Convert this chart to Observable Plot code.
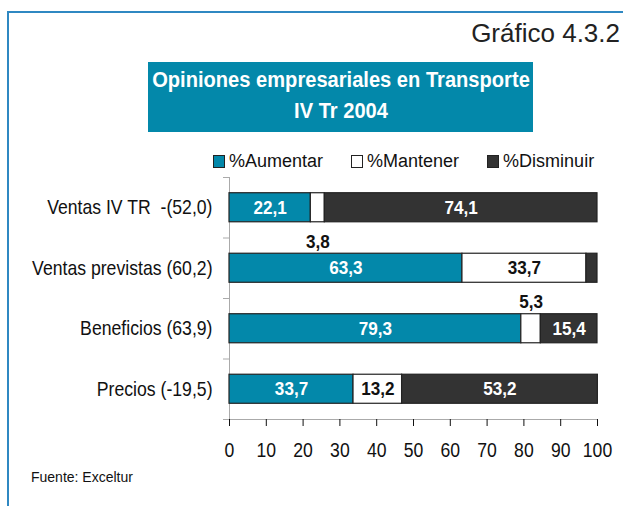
<!DOCTYPE html>
<html><head><meta charset="utf-8">
<script src="https://cdn.jsdelivr.net/npm/d3@7"></script>
<script src="https://cdn.jsdelivr.net/npm/@observablehq/plot@0.6"></script>
<style>
body{margin:0;background:#fff;}
#wrap{position:relative;width:623px;height:506px;overflow:hidden;font-family:'Liberation Sans',Arial,sans-serif;color:#111;}
#frame{position:absolute;left:7px;top:11px;width:700px;height:600px;border-left:2px solid #2f88c2;border-top:2px solid #2f88c2;}
#num{position:absolute;right:3px;top:20px;font-size:26px;line-height:26px;color:#222;}
#box{position:absolute;left:148px;top:62px;width:385px;height:70px;background:#0388aa;color:#fff;font-weight:bold;font-size:21.5px;line-height:31px;padding-top:3px;box-sizing:border-box;overflow:visible;}
#box div{width:500px;margin-left:-57.5px;text-align:center;white-space:nowrap;transform:scaleX(0.935);transform-origin:center;}
#legend{position:absolute;top:150px;left:213px;display:flex;gap:28px;font-size:18px;line-height:22px;}
#legend .it{display:flex;align-items:center;}
#legend .sw{width:10px;height:11px;border:1px solid #222;margin-right:4px;}
#src{position:absolute;left:31px;top:469px;font-size:14px;line-height:16px;color:#111;}
#chart{position:absolute;left:0;top:0;}
</style></head>
<body>
<div id="wrap">
  <div id="frame"></div>
  <div id="num">Gráfico 4.3.2</div>
  <div id="box"><div>Opiniones empresariales en Transporte</div><div>IV Tr 2004</div></div>
  <div id="legend"></div>
  <div id="chart"></div>
  <div id="src">Fuente: Exceltur</div>
</div>
<script>
const categories = ["Ventas IV TR  -(52,0)", "Ventas previstas (60,2)", "Beneficios (63,9)", "Precios (-19,5)"];
const seriesNames = ["%Aumentar", "%Mantener", "%Disminuir"];
const aumentar = [22.1, 63.3, 79.3, 33.7];
const mantener = [3.8, 33.7, 5.3, 13.2];
const disminuir = [74.1, 3.0, 15.4, 53.2];
const xTicks = [0, 10, 20, 30, 40, 50, 60, 70, 80, 90, 100];

const colors = {"%Aumentar": "#0388aa", "%Mantener": "#ffffff", "%Disminuir": "#333333"};
const labelColors = {"%Aumentar": "#ffffff", "%Mantener": "#111111", "%Disminuir": "#ffffff"};
const seriesValues = [aumentar, mantener, disminuir];

// legend
const leg = document.getElementById("legend");
seriesNames.forEach(s => {
  const it = document.createElement("div"); it.className = "it";
  const sw = document.createElement("div"); sw.className = "sw"; sw.style.background = colors[s];
  const t = document.createElement("span"); t.textContent = s;
  it.appendChild(sw); it.appendChild(t); leg.appendChild(it);
});

// segments
const segs = [];
categories.forEach((c, i) => {
  let acc = 0;
  seriesNames.forEach((s, k) => {
    const v = seriesValues[k][i];
    segs.push({row: i, series: s, value: v, x1: acc, x2: acc + v});
    acc += v;
  });
});
const fmt = v => v.toFixed(1).replace(".", ",");
const inside = segs.filter(d => d.value >= 6);
const outside = segs.filter(d => d.value < 6 && d.value >= 3.5);

const plot = Plot.plot({
  width: 623, height: 506,
  marginLeft: 229, marginRight: 26, marginTop: 177, marginBottom: 87,
  style: {fontFamily: "'Liberation Sans', Arial, sans-serif", background: "transparent", color: "#111"},
  x: {domain: [0, 100], axis: null},
  y: {domain: [0, 4], reverse: true, axis: null},
  marks: [
    Plot.ruleX([0], {y1: 0, y2: 4, stroke: "#aaaaaa", strokeWidth: 1}),
    Plot.ruleY([4], {x1: 0, x2: 100, stroke: "#aaaaaa", strokeWidth: 1}),
    Plot.axisY({ticks: [0, 1, 2, 3, 4], tickSize: 6, tickFormat: () => "", stroke: "#aaaaaa"}),
    Plot.axisY({ticks: [0.5, 1.5, 2.5, 3.5], tickSize: 0, tickPadding: 17, tickFormat: d => categories[Math.round(d - 0.5)], fontSize: 21, fill: "#111"}),
    Plot.axisX({ticks: xTicks, tickSize: 7, tickPadding: 16, stroke: "#111", fontSize: 20, fill: "#111", tickFormat: d => String(d)}),
    Plot.rectX(segs, {x1: "x1", x2: "x2", y1: d => d.row + 0.26, y2: d => d.row + 0.74, fill: d => colors[d.series], stroke: "#222", strokeWidth: 1.2}),
    Plot.text(inside, {x: d => (d.x1 + d.x2) / 2, y: d => d.row + 0.5, text: d => fmt(d.value), fill: d => labelColors[d.series], fontWeight: "bold", fontSize: 18}),
    Plot.text(outside, {x: d => (d.x1 + d.x2) / 2, y: d => d.row + 0.5, text: d => fmt(d.value), fill: "#111", fontWeight: "bold", fontSize: 18})
  ]
});
document.getElementById("chart").appendChild(plot);

// place outside labels: first row below its bar, others above
const outsideTexts = d3.select(plot).selectAll("g[aria-label='text']").filter((d, i) => i === 1).selectAll("text");
outsideTexts.each(function(_, j) {
  const d = outside[j];
  const el = d3.select(this);
  const off = d.row === 0 ? 34 : -27;
  const tr = el.attr("transform");
  if (tr) {
    const m = /translate\(([^,]+),([^)]+)\)/.exec(tr);
    if (m) el.attr("transform", `translate(${m[1]},${+m[2] + off})`);
  } else {
    el.attr("y", +el.attr("y") + off);
  }
});
// narrow (condensed) look of the original typeface
function condense(sel, k) {
  d3.select(plot).selectAll(sel).each(function() {
    const w = this.getComputedTextLength();
    if (w > 0) d3.select(this).attr("textLength", w * k).attr("lengthAdjust", "spacingAndGlyphs");
  });
}
condense("g[aria-label='y-axis tick label'] text", 0.84);
condense("g[aria-label='x-axis tick label'] text", 0.88);
condense("g[aria-label='text'] text", 0.95);
</script>
</body></html>
